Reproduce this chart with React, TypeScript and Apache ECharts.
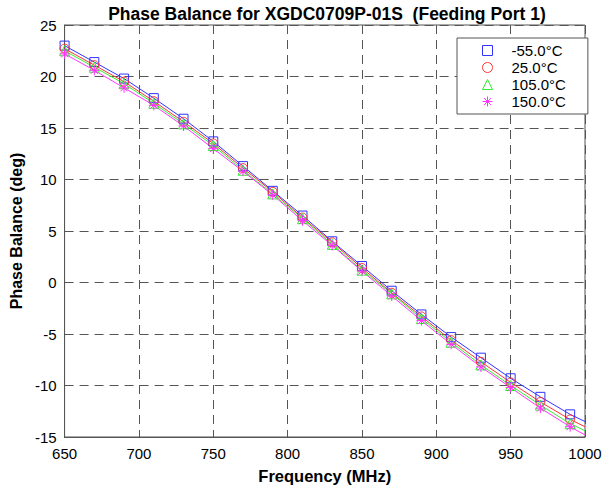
import React, { useEffect, useRef } from "react";
import * as echarts from "echarts";

const freqs = [650, 670, 690, 710, 730, 750, 770, 790, 810, 830, 850, 870, 890, 910, 930, 950, 970, 990, 1000];
const seriesNames = ["-55.0°C", "25.0°C", "105.0°C", "150.0°C"];
const valsM55 = [23.0, 21.4, 19.8, 17.9, 15.9, 13.7, 11.3, 8.9, 6.5, 4.0, 1.6, -0.8, -3.1, -5.3, -7.3, -9.3, -11.1, -12.8, -13.5];
const vals25 = [22.7, 21.1, 19.5, 17.6, 15.6, 13.5, 11.1, 8.8, 6.3, 3.9, 1.4, -1.0, -3.3, -5.6, -7.7, -9.7, -11.6, -13.3, -14.0];
const vals105 = [22.5, 20.9, 19.3, 17.4, 15.4, 13.3, 10.9, 8.6, 6.2, 3.7, 1.2, -1.1, -3.5, -5.8, -8.0, -10.0, -11.9, -13.7, -14.4];
const vals150 = [22.2, 20.6, 18.9, 17.2, 15.2, 13.0, 10.8, 8.5, 6.0, 3.6, 1.1, -1.3, -3.7, -6.0, -8.2, -10.2, -12.2, -14.0, -14.8];
const xTicks = [650, 700, 750, 800, 850, 900, 950, 1000];
const yTicks = [-15, -10, -5, 0, 5, 10, 15, 20, 25];

const colors = ["#3333ff", "#ff3333", "#33ee33", "#ff33ff"];
const asterisk = "path://M5,0L5,10M0,5L10,5M1.5,1.5L8.5,8.5M1.5,8.5L8.5,1.5";
const symbols = ["rect", "circle", "triangle", asterisk];
const symbolSizes = [9, 9, 10, 10];
const allVals = [valsM55, vals25, vals105, vals150];

export default function App() {
  const ref = useRef<HTMLDivElement>(null);
  useEffect(() => {
    if (!ref.current) return;
    document.body.style.margin = "0";
    const chart = echarts.init(ref.current, null, { renderer: "svg" });
    const font = "Arial, 'Liberation Sans', sans-serif";
    chart.setOption({
      animation: false,
      backgroundColor: "#ffffff",
      title: {
        text: "Phase Balance for XGDC0709P-01S  (Feeding Port 1)",
        left: 322,
        top: 0,
        textAlign: "center",
        textStyle: { fontFamily: font, fontSize: 17.5, fontWeight: "bold", color: "#000" },
      },
      grid: {
        left: 63,
        right: 20,
        top: 25,
        bottom: 56,
        show: true,
        borderColor: "#555",
        borderWidth: 1,
        backgroundColor: "transparent",
      },
      legend: {
        orient: "vertical",
        left: 457,
        top: 38,
        padding: [5, 22, 5, 25],
        itemGap: 2,
        itemWidth: 10,
        itemHeight: 10,
        backgroundColor: "#fff",
        borderColor: "#555",
        borderWidth: 1,
        borderRadius: 0,
        textStyle: { fontFamily: font, fontSize: 15, color: "#000", padding: [0, 0, 0, 14] },
        data: seriesNames.map((n, i) => ({
          name: n,
          icon: symbols[i],
          itemStyle: { color: "transparent", borderColor: colors[i], borderWidth: 1 },
        })),
      },
      xAxis: {
        type: "value",
        min: xTicks[0],
        max: xTicks[xTicks.length - 1],
        interval: 50,
        name: "Frequency (MHz)",
        nameLocation: "middle",
        nameGap: 30,
        nameTextStyle: { fontFamily: font, fontSize: 16.5, fontWeight: "bold", color: "#000" },
        axisLine: { show: true, onZero: false, lineStyle: { color: "#555", width: 1 } },
        axisTick: { show: true, inside: true, length: 5, lineStyle: { color: "#555" } },
        axisLabel: { fontFamily: font, fontSize: 15, color: "#000", margin: 9, formatter: (v: number) => String(v) },
        splitLine: { show: true, lineStyle: { color: "#555", type: [9, 6], width: 1 } },
      },
      yAxis: {
        type: "value",
        min: yTicks[0],
        max: yTicks[yTicks.length - 1],
        interval: 5,
        name: "Phase Balance (deg)",
        nameLocation: "middle",
        nameGap: 33,
        nameTextStyle: { fontFamily: font, fontSize: 16, fontWeight: "bold", color: "#000" },
        axisLine: { show: true, onZero: false, lineStyle: { color: "#555", width: 1 } },
        axisTick: { show: true, inside: true, length: 5, lineStyle: { color: "#555" } },
        axisLabel: { fontFamily: font, fontSize: 15, color: "#000", margin: 8, formatter: (v: number) => String(v) },
        splitLine: { show: true, lineStyle: { color: "#555", type: [9, 6], width: 1 } },
      },
      series: seriesNames.map((n, i) => ({
        name: n,
        type: "line",
        symbol: symbols[i],
        symbolSize: symbolSizes[i],
        showAllSymbol: true,
        lineStyle: { color: colors[i], width: 1 },
        itemStyle: { color: "transparent", borderColor: colors[i], borderWidth: 1 },
        emphasis: { disabled: true },
        data: freqs.map((f, j) =>
          f === 1000 ? { value: [f, allVals[i][j]], symbol: "none" } : [f, allVals[i][j]]
        ),
      })),
    });
    return () => chart.dispose();
  }, []);
  return <div ref={ref} style={{ width: 605, height: 493 }} />;
}
